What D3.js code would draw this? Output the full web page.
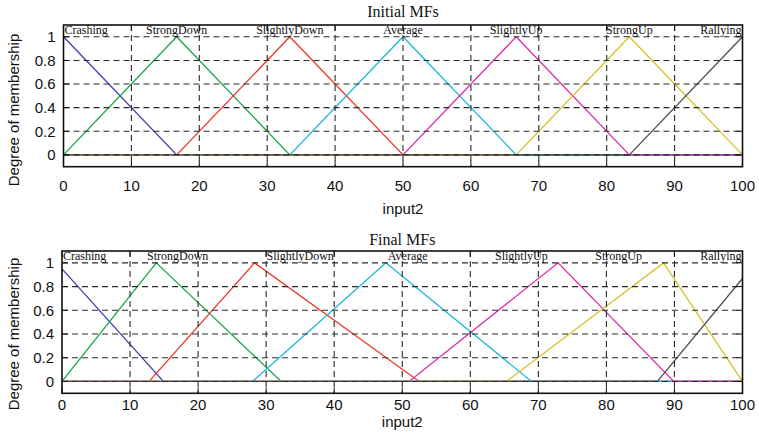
<!DOCTYPE html>
<html>
<head>
<meta charset="utf-8">
<script src="https://cdn.jsdelivr.net/npm/d3@7"></script>
<style>
  html, body { margin: 0; padding: 0; background: #fff; }
  svg { display: block; }
</style>
</head>
<body>
<svg id="chart" width="759" height="436"></svg>
<script>
// ---------------- DATA ----------------
const mfNames = ["Crashing", "StrongDown", "SlightlyDown", "Average", "SlightlyUp", "StrongUp", "Rallying"];
// triangular MF parameters [a, b, c]
const initialParams = [
  [-16.67, 0, 16.67],
  [0, 16.67, 33.33],
  [16.67, 33.33, 50],
  [33.33, 50, 66.67],
  [50, 66.67, 83.33],
  [66.67, 83.33, 100],
  [83.33, 100, 116.67]
];
const finalParams = [
  [-16, -0.8, 14.9],
  [0, 13.85, 32.2],
  [12.8, 28.3, 52.5],
  [28.0, 47.6, 69.0],
  [51.0, 72.9, 89.9],
  [65.3, 88.4, 100],
  [87.5, 101.9, 116]
];
const initialLabelX = [0, 16.67, 33.33, 50, 66.67, 83.33, 100];
const finalLabelX = [0, 17.0, 35.0, 50.8, 67.5, 81.8, 100];
const xTicks = [0, 10, 20, 30, 40, 50, 60, 70, 80, 90, 100];
const yTicks = [0, 0.2, 0.4, 0.6, 0.8, 1];
const titles = ["Initial MFs", "Final MFs"];
const xLabel = "input2";
const yLabel = "Degree of membership";

// ---------------- STYLES ----------------
const mfColors = ["#3d3db5", "#15a64a", "#ee3524", "#18b6d8", "#dc2aa8", "#d6c024", "#505050"];

const svg = d3.select("#chart");

function trimf(x, p) {
  const [a, b, c] = p;
  if (x <= a || x >= c) return 0;
  if (x === b) return 1;
  return x < b ? (x - a) / (b - a) : (c - x) / (c - b);
}

function drawPanel(cfg) {
  const { x0, x1, yT, yB, params, labelX, title, tickDy, xlabY, titleY, ylabY } = cfg;
  const x = d3.scaleLinear().domain([0, 100]).range([x0, x1]);
  const y = d3.scaleLinear().domain([-0.1, 1.1]).range([yB, yT]);
  const g = svg.append("g");

  // MF curves over full domain
  params.forEach((p, i) => {
    const xs = [0, 100, ...p.filter(v => v > 0 && v < 100)].sort((a, b) => a - b);
    const pts = xs.map(v => [v, trimf(v, p)]);
    g.append("path")
      .attr("d", d3.line().x(d => x(d[0])).y(d => y(d[1]))(pts))
      .attr("fill", "none")
      .attr("stroke", mfColors[i])
      .attr("stroke-width", 1.3);
  });

  // grid
  const grid = g.append("g").attr("stroke", "#2a2a2a").attr("stroke-width", 1.1)
    .attr("stroke-dasharray", "6,4");
  xTicks.filter(t => t > 0 && t < 100).forEach(t => {
    grid.append("line").attr("x1", x(t)).attr("x2", x(t)).attr("y1", yT).attr("y2", yB);
  });
  yTicks.forEach(t => {
    grid.append("line").attr("x1", x0).attr("x2", x1).attr("y1", y(t)).attr("y2", y(t));
  });

  // box
  g.append("rect").attr("x", x0).attr("y", yT).attr("width", x1 - x0).attr("height", yB - yT)
    .attr("fill", "none").attr("stroke", "#111").attr("stroke-width", 1.6);

  // inner ticks
  const tk = g.append("g").attr("stroke", "#111").attr("stroke-width", 1);
  xTicks.forEach(t => {
    tk.append("line").attr("x1", x(t)).attr("x2", x(t)).attr("y1", yB).attr("y2", yB - 6);
    tk.append("line").attr("x1", x(t)).attr("x2", x(t)).attr("y1", yT).attr("y2", yT + 6);
  });
  yTicks.forEach(t => {
    tk.append("line").attr("x1", x0).attr("x2", x0 + 6).attr("y1", y(t)).attr("y2", y(t));
    tk.append("line").attr("x1", x1).attr("x2", x1 - 6).attr("y1", y(t)).attr("y2", y(t));
  });

  // tick labels
  const sans = "'Liberation Sans', Arial, Helvetica, sans-serif";
  xTicks.forEach(t => {
    g.append("text").attr("x", x(t)).attr("y", yB + tickDy)
      .attr("text-anchor", "middle").attr("font-family", sans).attr("font-size", 15)
      .attr("fill", "#111").text(t);
  });
  yTicks.forEach(t => {
    g.append("text").attr("x", x0 - 8).attr("y", y(t)).attr("dy", "0.36em")
      .attr("text-anchor", "end").attr("font-family", sans).attr("font-size", 15)
      .attr("fill", "#111").text(d3.format("~g")(t));
  });

  // axis labels
  g.append("text").attr("x", (x0 + x1) / 2).attr("y", xlabY)
    .attr("text-anchor", "middle").attr("font-family", sans).attr("font-size", 15)
    .attr("fill", "#111").text(xLabel);
  g.append("text").attr("transform", `translate(19,${ylabY}) rotate(-90)`)
    .attr("text-anchor", "middle").attr("font-family", sans).attr("font-size", 15)
    .attr("fill", "#111").text(yLabel);

  // title
  const serif = "'Liberation Serif', 'Times New Roman', serif";
  g.append("text").attr("x", (x0 + x1) / 2).attr("y", titleY)
    .attr("text-anchor", "middle").attr("font-family", serif).attr("font-size", 16)
    .attr("fill", "#111").text(title);

  // MF labels
  mfNames.forEach((name, i) => {
    const t = g.append("text").attr("y", y(1) - 3)
      .attr("font-family", serif).attr("font-size", 12).attr("fill", "#111").text(name);
    const w = t.node().getComputedTextLength();
    let cx = x(labelX[i]) - w / 2;
    cx = Math.max(x0 + 1, Math.min(x1 - 1 - w, cx));
    t.attr("x", cx);
  });
}

drawPanel({ x0: 63.5, x1: 742.5, yT: 25, yB: 166.7, params: initialParams, labelX: initialLabelX,
  title: titles[0], tickDy: 24, xlabY: 214, titleY: 17, ylabY: 110 });
drawPanel({ x0: 62, x1: 742.5, yT: 251, yB: 393.3, params: finalParams, labelX: finalLabelX,
  title: titles[1], tickDy: 17, xlabY: 427, titleY: 245, ylabY: 334 });
</script>
</body>
</html>
